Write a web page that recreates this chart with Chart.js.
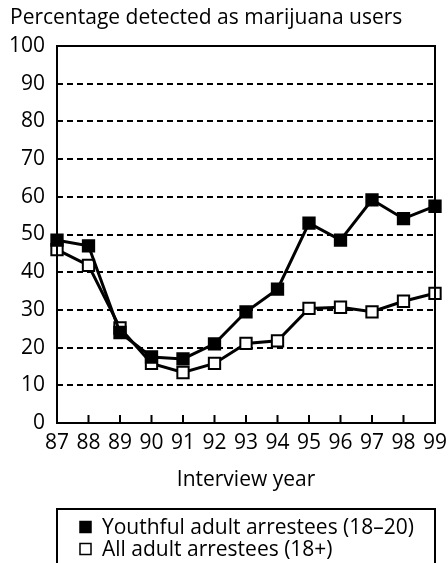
<!DOCTYPE html>
<html>
<head>
<meta charset="utf-8">
<script src="https://cdn.jsdelivr.net/npm/chart.js@4.4.1/dist/chart.umd.min.js"></script>
<style>
  html, body { margin: 0; padding: 0; background: #fff; }
  canvas { display: block; }
</style>
</head>
<body>
<canvas id="marijuanachart" width="448" height="563"></canvas>
<script>
// Data
var years = ['87', '88', '89', '90', '91', '92', '93', '94', '95', '96', '97', '98', '99'];
var youthfulArrestees = [48.5, 47, 24, 17.5, 17, 21, 29.5, 35.5, 53, 48.5, 59.2, 54.2, 57.5];
var allAdultArrestees = [46, 41.8, 25.2, 15.8, 13.4, 15.8, 21.1, 21.8, 30.4, 30.7, 29.5, 32.3, 34.4];
var seriesLabels = ['Youthful adult arrestees (18\u201320)', 'All adult arrestees (18+)'];
var yMin = 0, yMax = 100, yStep = 10;

var FONT = "'Open Sans', sans-serif";
var FONT_SIZE = 21;

// solid frame round the plot + inward tick marks on the x axis
var framePlugin = {
    id: 'frame',
    afterDatasetsDraw: function (chart) {
        var ctx = chart.ctx, a = chart.chartArea, x = chart.scales.x;
        ctx.save();
        ctx.strokeStyle = '#000';
        ctx.lineWidth = 2;
        ctx.setLineDash([]);
        ctx.strokeRect(a.left, a.top, a.right - a.left, a.bottom - a.top);
        ctx.beginPath();
        for (var i = 0; i < years.length; i++) {
            var px = x.getPixelForTick(i);
            ctx.moveTo(px, a.bottom);
            ctx.lineTo(px, a.bottom - 8);
        }
        ctx.stroke();
        ctx.restore();
    }
};

// boxed legend under the axis title
var boxLegendPlugin = {
    id: 'boxLegend',
    afterDraw: function (chart) {
        var ctx = chart.ctx, a = chart.chartArea;
        var top = 509, rowH = 22, size = 11;
        ctx.save();
        ctx.strokeStyle = '#000';
        ctx.lineWidth = 2;
        ctx.strokeRect(a.left, top, a.right - a.left, 80);
        ctx.font = FONT_SIZE + 'px ' + FONT;
        ctx.textBaseline = 'middle';
        chart.data.datasets.forEach(function (ds, i) {
            var cy = top + 18 + i * rowH;
            ctx.fillStyle = ds.pointBackgroundColor;
            ctx.fillRect(80, cy - size / 2, size, size);
            ctx.lineWidth = 1.5;
            ctx.strokeRect(80, cy - size / 2, size, size);
            ctx.fillStyle = '#000';
            ctx.fillText(ds.label, 102, cy + 1);
        });
        ctx.restore();
    }
};

var ctx = document.getElementById('marijuanachart').getContext('2d');

var marijuanachart = new Chart(ctx, {
    type: 'line',
    data: {
        labels: years,
        datasets: [{
            label: seriesLabels[0],
            data: youthfulArrestees,
            borderColor: '#000',
            borderWidth: 3,
            pointStyle: 'rect',
            pointRadius: 8,
            pointBorderWidth: 2,
            pointBackgroundColor: '#000',
            pointBorderColor: '#000',
            tension: 0
        }, {
            label: seriesLabels[1],
            data: allAdultArrestees,
            borderColor: '#000',
            borderWidth: 3,
            pointStyle: 'rect',
            pointRadius: 8,
            pointBorderWidth: 2,
            pointBackgroundColor: '#fff',
            pointBorderColor: '#000',
            tension: 0
        }]
    },
    options: {
        responsive: false,
        animation: false,
        devicePixelRatio: 1,
        layout: {
            padding: { left: 10, right: 13, top: 0, bottom: 70 }
        },
        scales: {
            x: {
                offset: false,
                grid: { display: false },
                border: { display: false },
                ticks: {
                    color: '#000',
                    font: { family: FONT, size: FONT_SIZE },
                    padding: -1,
                    maxRotation: 0,
                    autoSkip: false
                },
                title: {
                    display: true,
                    text: 'Interview year',
                    color: '#000',
                    font: { family: FONT, size: FONT_SIZE },
                    padding: { top: 0, bottom: 0 }
                },
                afterFit: function (scale) { scale.height = 70; }
            },
            y: {
                min: yMin,
                max: yMax,
                grid: {
                    drawTicks: false,
                    lineWidth: 2,
                    color: function (c) {
                        var v = c.tick && c.tick.value;
                        return (v === yMin || v === yMax) ? 'rgba(0,0,0,0)' : '#000';
                    }
                },
                border: { display: false, dash: [6, 4] },
                ticks: {
                    stepSize: yStep,
                    color: '#000',
                    font: { family: FONT, size: FONT_SIZE },
                    padding: 12
                },
                afterFit: function (scale) { scale.width = 47; }
            }
        },
        plugins: {
            legend: { display: false },
            tooltip: { enabled: false },
            title: {
                display: true,
                text: 'Percentage detected as marijuana users',
                align: 'start',
                color: '#000',
                font: { family: FONT, size: FONT_SIZE, weight: 'normal' },
                padding: { top: 5, bottom: 46 - 5 - FONT_SIZE * 1.2 }
            }
        }
    },
    plugins: [framePlugin, boxLegendPlugin]
});
</script>
</body>
</html>
